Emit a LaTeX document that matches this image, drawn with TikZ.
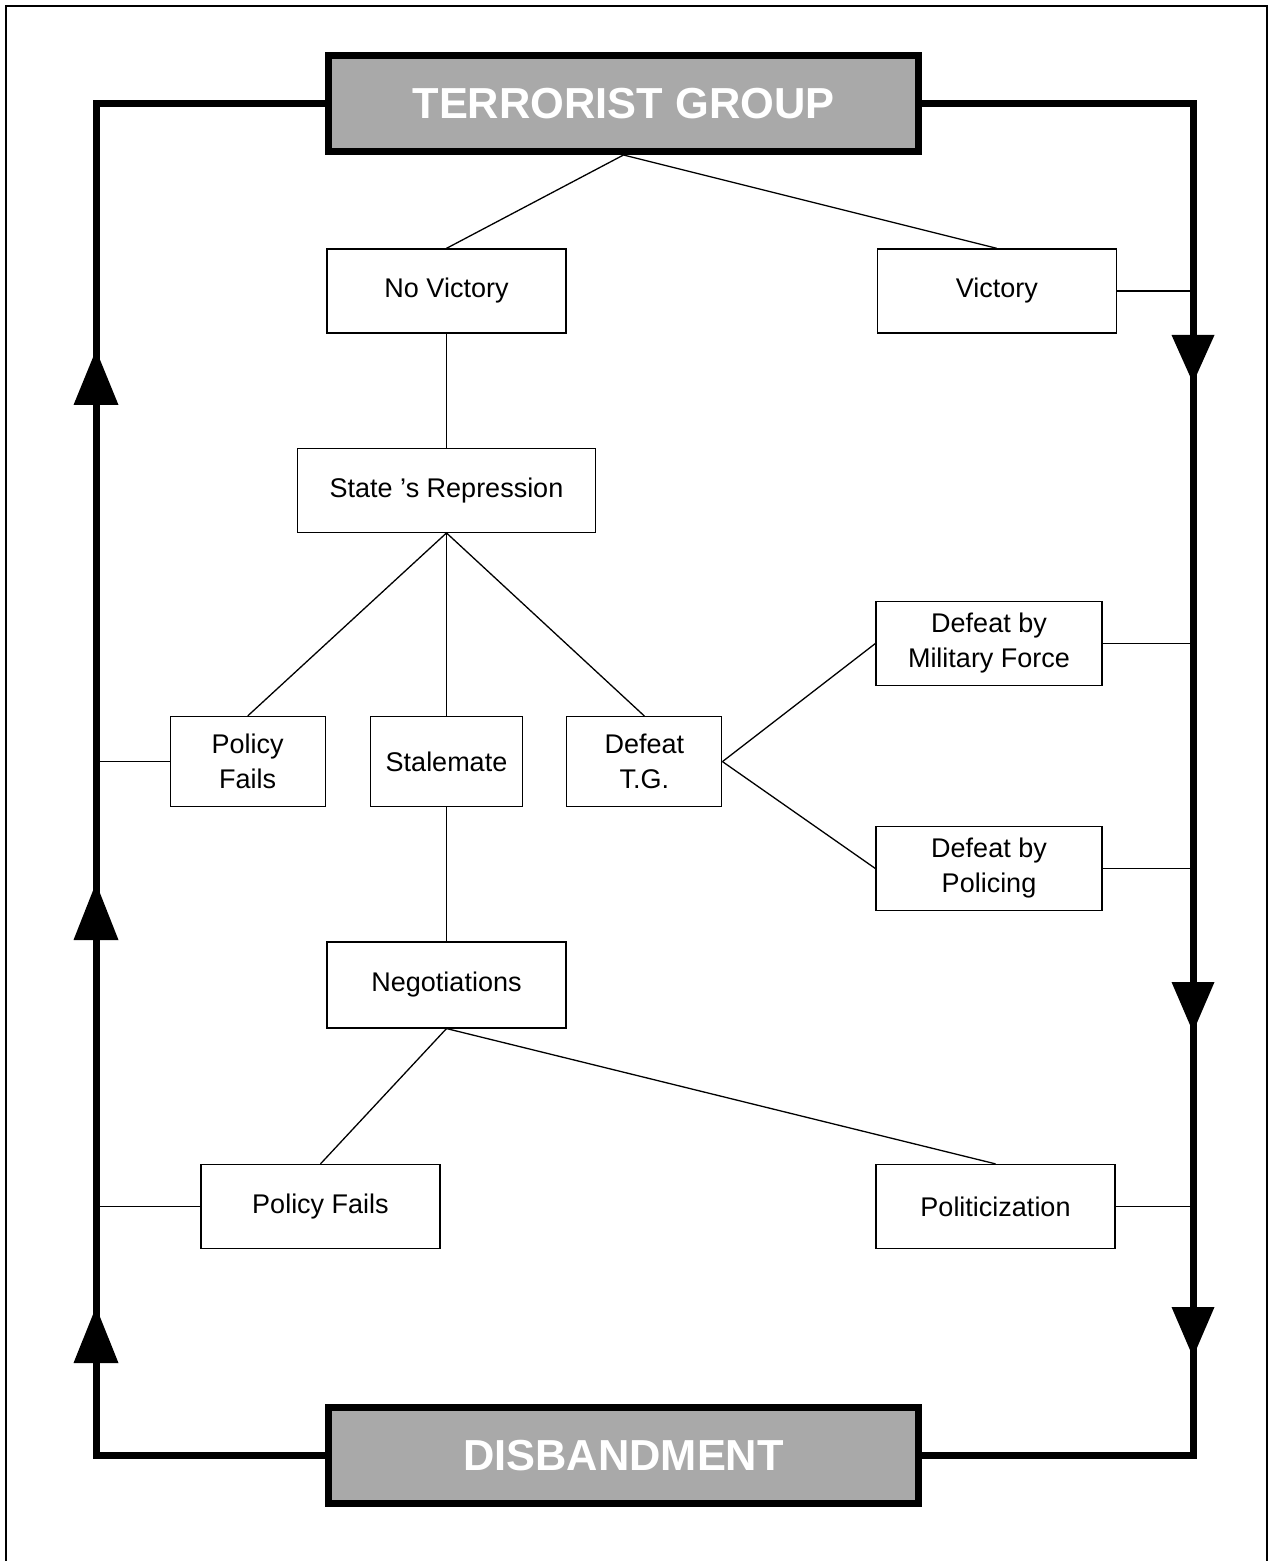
\documentclass[tikz,border=0pt]{standalone}
\usepackage{fontspec}
\setmainfont{Liberation Sans}
\usetikzlibrary{positioning, calc}

\definecolor{groupgray}{RGB}{169,169,169}

\begin{document}
\begin{tikzpicture}[
      x=0.5pt, y=-0.5pt,
      endbox/.style={rectangle, draw, line width=3.5pt, fill=groupgray, text=white, minimum width=295pt, minimum height=48pt, inner sep=0pt, font=\fontsize{21.7}{26}\selectfont\bfseries},
      stage/.style={rectangle, draw, line width=0.65pt, minimum width=119.5pt, minimum height=42pt, inner sep=0pt, align=center, font=\fontsize{13.5}{17.5}\selectfont},
      branch/.style={stage, minimum width=77.5pt, minimum height=45pt},
      link/.style={line width=0.65pt},
      rail/.style={line width=3.5pt}
    ]
    \useasboundingbox (0,0) rectangle (1269,1561);

    % page frame
    \draw[line width=1pt] (6,1561) -- (6,6) -- (1267,6) -- (1267,1561);

    \coordinate (lrail) at (96,0);
    \coordinate (rrail) at (1193,0);

    \node[endbox] (tg) at (623.5,103.5) {TERRORIST GROUP};
    \node[endbox] (dis) at (623.5,1455.5) {DISBANDMENT};

    \node[stage] (nov) at (446.5,291) {No Victory};
    \node[stage, right=155pt of nov] (vic) {Victory};
    \node[stage, minimum width=149pt, below=57pt of nov] (rep) {State 's Repression};
    \node[branch, minimum width=76pt, below=91.5pt of rep] (stl) {Stalemate};
    \node[branch, left=22pt of stl] (pf1) {Policy\\Fails};
    \node[branch, right=21.5pt of stl] (dtg) {Defeat\\T.G.};
    \node[stage, minimum width=113pt] (dmf) at (989,643.5) {Defeat by\\Military Force};
    \node[stage, minimum width=113pt] (dpo) at (989,868.5) {Defeat by\\Policing};
    \node[stage, minimum height=43pt, below=67pt of stl] (neg) {Negotiations};
    \node[stage] (pf2) at (320.5,1206.5) {Policy Fails};
    \node[stage] (pol) at (995.5,1206.5) {Politicization};

    % outer loop
    \draw[rail] (tg.west) -- (tg.west -| lrail) -- (dis.west -| lrail) -- (dis.west);
    \draw[rail] (tg.east) -- (tg.east -| rrail) -- (dis.east -| rrail) -- (dis.east);
    \foreach \tip/\base in {350/405, 883/940, 1307/1363}
      \fill (96,\tip) -- (73.5,\base) -- (118.5,\base) -- cycle;
    \foreach \base/\tip in {335/383, 982/1032, 1307/1357}
      \fill (1193,\tip) -- (1171.5,\base) -- (1214.5,\base) -- cycle;

    % tree
    \draw[link] (tg.south) -- (nov.north);
    \draw[link] (tg.south) -- (vic.north);
    \draw[link] (nov) -- (rep);
    \draw[link] (rep.south) -- (pf1.north);
    \draw[link] (rep.south) -- (stl.north);
    \draw[link] (rep.south) -- (dtg.north);
    \draw[link] (dtg.east) -- (dmf.west);
    \draw[link] (dtg.east) -- (dpo.west);
    \draw[link] (stl) -- (neg);
    \draw[link] (neg.south) -- (pf2.north);
    \draw[link] (neg.south) -- (pol.north);

    % exits to the loop
    \draw[link] (vic.east) -- (vic.east -| rrail);
    \draw[link] (dmf.east) -- (dmf.east -| rrail);
    \draw[link] (dpo.east) -- (dpo.east -| rrail);
    \draw[link] (pol.east) -- (pol.east -| rrail);
    \draw[link] (pf1.west) -- (pf1.west -| lrail);
    \draw[link] (pf2.west) -- (pf2.west -| lrail);
  \end{tikzpicture}
\end{document}
